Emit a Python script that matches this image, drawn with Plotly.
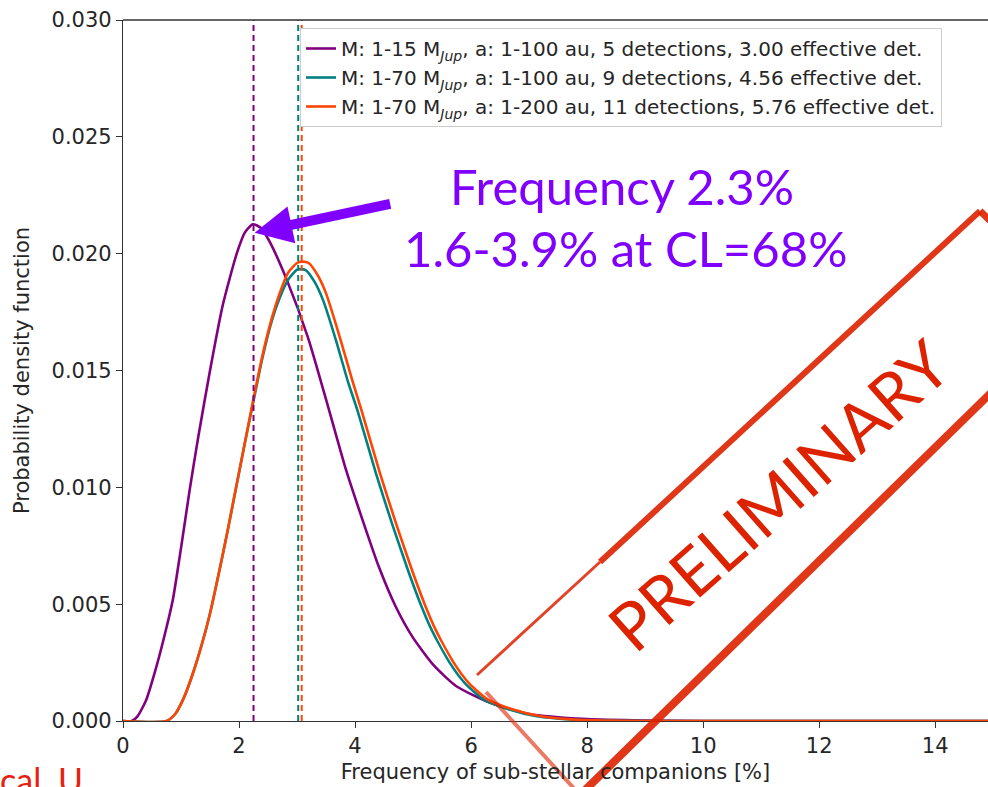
import plotly.graph_objects as go

# ---------------- data ----------------
purple_x = [0, 0.15, 0.25, 0.4, 0.55, 0.7, 0.86, 1.0, 1.15, 1.3, 1.5, 1.72, 1.96, 2.1, 2.24,
            2.38, 2.53, 2.82, 3.19, 3.53, 3.85, 4.13, 4.41, 4.7, 4.99, 5.35, 5.74, 6.31, 7.0, 8.0, 9.0, 10.0, 15.0]
purple_y = [0, 0, 0.0002, 0.0009, 0.0021, 0.0035, 0.0052, 0.0074, 0.0099, 0.0122, 0.0150, 0.0178, 0.0200, 0.0209, 0.02126,
            0.0211, 0.0205, 0.0189, 0.0164, 0.0135, 0.0107, 0.0086, 0.0066, 0.0049, 0.0036, 0.0024, 0.0015, 0.0008, 0.0003, 0.00008, 0.00002, 0, 0]

teal_x = [0, 0.75, 0.9, 1.05, 1.2, 1.35, 1.5, 1.65, 1.8, 1.95, 2.1, 2.25, 2.4, 2.55, 2.7, 2.85, 3.0, 3.05,
          3.15, 3.3, 3.45, 3.67, 3.88, 4.04, 4.36, 4.63, 4.92, 5.13, 5.32, 5.63, 5.9, 6.23, 6.64, 7.13, 7.8, 9.0, 15.0]
teal_y = [0, 0, 0.0003, 0.0010, 0.0020, 0.0032, 0.0046, 0.0063, 0.0081, 0.0100, 0.0119, 0.0137, 0.0155, 0.0170, 0.0181, 0.0189, 0.01932, 0.01934,
          0.0193, 0.0188, 0.0180, 0.0163, 0.0145, 0.0133, 0.0106, 0.0085, 0.0064, 0.0050, 0.0039, 0.0025, 0.0016, 0.0009, 0.0005, 0.0002, 0.00005, 0, 0]

orange_x = [0, 0.75, 0.9, 1.05, 1.2, 1.35, 1.5, 1.65, 1.8, 1.95, 2.1, 2.25, 2.4, 2.55, 2.7, 2.85, 3.0, 3.08,
            3.2, 3.35, 3.5, 3.74, 3.95, 4.11, 4.43, 4.7, 4.99, 5.2, 5.39, 5.7, 5.97, 6.3, 6.71, 7.2, 7.86, 9.0, 15.0]
orange_y = [0, 0, 0.0003, 0.0010, 0.0020, 0.0032, 0.0046, 0.0063, 0.0081, 0.0100, 0.0119, 0.0138, 0.0156, 0.0171, 0.0183, 0.0192, 0.0196, 0.01966,
            0.0196, 0.0191, 0.0183, 0.0164, 0.0146, 0.0133, 0.0106, 0.0085, 0.0064, 0.0050, 0.0039, 0.0025, 0.0016, 0.0009, 0.0005, 0.0002, 0.00005, 0, 0]

median_x = [2.25, 3.02, 3.08]          # dashed vertical lines (purple, teal, orange)
vline_y = [0, 0.03]

series_names = [
    "M: 1-15 M<sub><i>Jup</i></sub>, a: 1-100 au, 5 detections, 3.00 effective det.",
    "M: 1-70 M<sub><i>Jup</i></sub>, a: 1-100 au, 9 detections, 4.56 effective det.",
    "M: 1-70 M<sub><i>Jup</i></sub>, a: 1-200 au, 11 detections, 5.76 effective det.",
]
colors = ["#800080", "#008080", "#FF4500"]

x_ticks = [0, 2, 4, 6, 8, 10, 12, 14]
y_ticks = [0.000, 0.005, 0.010, 0.015, 0.020, 0.025, 0.030]

# ---------------- layout geometry ----------------
FW, FH = 988, 787
L, R, T, B = 123, 988, 20, 721
W, H = R - L, B - T


def P(px, py):
    return (px - L) / W, (B - py) / H


fig = go.Figure()
for xs, ys, name, c in zip([purple_x, teal_x, orange_x], [purple_y, teal_y, orange_y], series_names, colors):
    fig.add_trace(go.Scatter(x=xs, y=ys, mode="lines", name=name,
                             line=dict(color=c, width=2.6, shape="spline", smoothing=0.6)))

for mx, c in zip(median_x, colors):
    fig.add_trace(go.Scatter(x=[mx, mx], y=vline_y, mode="lines", showlegend=False,
                             line=dict(color=c, width=2, dash="6px,4px")))

axis_font = dict(family="DejaVu Sans", size=21, color="#262626")

fig.update_layout(
    width=FW, height=FH,
    margin=dict(l=L, r=FW - R, t=T, b=FH - B, pad=0),
    paper_bgcolor="white", plot_bgcolor="white",
    showlegend=True,
    legend=dict(x=P(300, 0)[0], y=P(0, 28)[1], xanchor="left", yanchor="top",
                bgcolor="white", bordercolor="#cccccc", borderwidth=1,
                font=dict(family="DejaVu Sans", size=20, color="#262626"),
                tracegroupgap=0, itemwidth=30),
    xaxis=dict(range=[0, 14.91], tickvals=x_ticks, ticktext=[str(v) for v in x_ticks],
               showgrid=False, zeroline=False, showline=True, linecolor="#333333", linewidth=1.3,
               ticks="outside", ticklen=6, tickcolor="#333333", tickwidth=1.3,
               tickfont=axis_font, layer="below traces",
               title=dict(text="Frequency of sub-stellar companions [%]", font=axis_font, standoff=6)),
    yaxis=dict(range=[0, 0.03], tickvals=y_ticks, ticktext=["%.3f" % v for v in y_ticks],
               showgrid=False, zeroline=False, showline=True, linecolor="#333333", linewidth=1.3,
               ticks="outside", ticklen=6, tickcolor="#333333", tickwidth=1.3,
               tickfont=axis_font, layer="below traces",
               title=dict(text="Probability density function", font=axis_font, standoff=16)),
)

# top spine
fig.add_shape(type="line", xref="paper", yref="paper", x0=0, x1=1, y0=1, y1=1,
              line=dict(color="#333333", width=1.3))

# ---------------- annotations ----------------
violet = "#8000FF"
ann_font = dict(family="Lato", size=49, color=violet)
x1, y1 = P(622, 186)
fig.add_annotation(xref="paper", yref="paper", x=x1, y=y1, text="Frequency 2.3%",
                   showarrow=False, font=ann_font, xanchor="center", yanchor="middle")
x2, y2 = P(625, 248)
fig.add_annotation(xref="paper", yref="paper", x=x2, y=y2, text="1.6-3.9% at CL=68%",
                   showarrow=False, font=ann_font, xanchor="center", yanchor="middle")

# arrow pointing to the purple peak
fig.add_annotation(x=2.27, y=0.0209, xref="x", yref="y", text="", showarrow=True,
                   ax=137, ay=-29, arrowcolor=violet, arrowwidth=10, arrowhead=2, arrowsize=0.75)

# PRELIMINARY stamp
red = "#DD2200"
sx, sy = P(778, 494)
fig.add_annotation(xref="paper", yref="paper", x=sx, y=sy, text="PRELIMINARY", textangle=-41.5,
                   showarrow=False, font=dict(family="Lato", size=66, color=red),
                   xanchor="center", yanchor="middle")

stamp_lines = [
    ((477, 675), (600, 562), 3, 0.85),
    ((600, 562), (980, 211), 6, 0.9),
    ((980, 211), (1000, 230), 7, 0.9),
    ((486, 692), (580, 795), 4, 0.6),
    ((580, 795), (1000, 384), 8, 0.9),
]
for (ax0, ay0), (ax1, ay1), wd, op in stamp_lines:
    px0, py0 = P(ax0, ay0)
    px1, py1 = P(ax1, ay1)
    fig.add_shape(type="line", xref="paper", yref="paper", x0=px0, y0=py0, x1=px1, y1=py1,
                  line=dict(color=red, width=wd), opacity=op)

# partial slide text bottom-left
cx, cy = P(-2, 757)
fig.add_annotation(xref="paper", yref="paper", x=cx, y=cy, text="cal. U", showarrow=False,
                   font=dict(family="Lato", size=34, color="#E8210F"), xanchor="left", yanchor="top")

fig.write_html("out.html")
